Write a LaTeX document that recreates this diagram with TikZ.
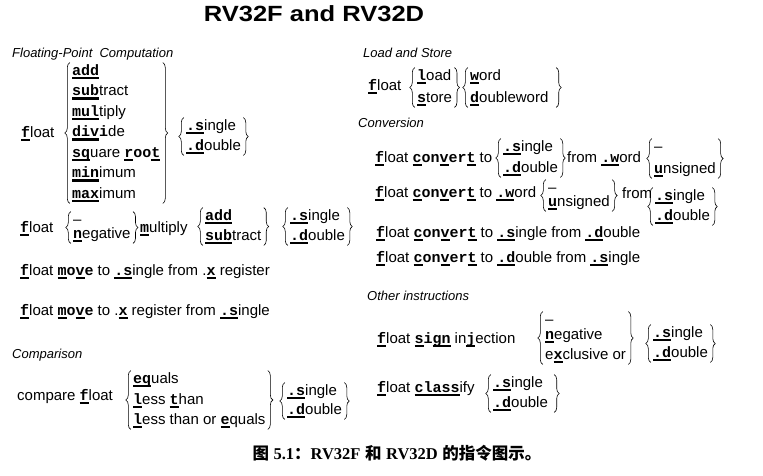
\documentclass[tikz,border=0pt]{standalone}
\usepackage{fontspec}
\usepackage{graphicx}
\setmainfont{Liberation Sans}
\setmonofont{Liberation Mono}
\newfontfamily\cjk{Noto Sans CJK SC}
\newfontfamily\capserif{Liberation Serif}
\usetikzlibrary{fit, decorations.pathreplacing}

% bold mono letters, with and without the thick bar under them
\newcommand{\ulm}[1]{\setbox0\hbox{\ttfamily\bfseries #1}\rlap{\rule[-4.2pt]{\wd0}{2.7pt}}\box0\relax}
\newcommand{\mo}[1]{{\ttfamily\bfseries #1}}

\begin{document}
\begin{tikzpicture}[x=1pt, y=-1pt]
        % Styles for lines of text, headings and the braces round a group
        \tikzstyle{txt} = [inner sep=0pt, anchor=base west, text height=11pt, text depth=4pt,
                           font=\fontsize{15}{20}\selectfont]
        \tikzstyle{head} = [inner sep=0pt, anchor=base west, font=\fontsize{13}{15}\selectfont\itshape]
        \tikzstyle{grp} = [inner xsep=2pt, inner ysep=1pt]
        \tikzstyle{brc} = [decorate, decoration={brace, amplitude=5pt}, line width=0.6pt]

        \useasboundingbox (0,0) rectangle (763,475);

        \node (title) at (314,21) [anchor=base, inner sep=0pt, font=\fontsize{22}{22}\selectfont\bfseries]
              {\scalebox{1.16}[1]{RV32F and RV32D}};

        % Floating-Point Computation
        \node (hcomp) at (12,57) [head] {Floating-Point\ \ Computation};
        \node (fpf) at (21,137) [txt] {\ulm{f}loat};
        \node (fpadd) at (72,75) [txt] {\ulm{add}};
        \node (fpsub) at (72,95.5) [txt] {\ulm{sub}tract};
        \node (fpmul) at (72,116) [txt] {\ulm{mul}tiply};
        \node (fpdiv) at (72,136.5) [txt] {\ulm{div}\mo{i}de};
        \node (fpsqrt) at (72,157) [txt] {\ulm{sq}uare \ulm{r}\mo{oo}\ulm{t}};
        \node (fpmin) at (72,177.5) [txt] {\ulm{min}imum};
        \node (fpmax) at (72,198) [txt] {\ulm{max}imum};
        \node (fpops) [grp, fit=(fpadd)(fpsub)(fpmul)(fpdiv)(fpsqrt)(fpmin)(fpmax)] {};
        \node (fps) at (186,130) [txt] {\ulm{.s}ingle};
        \node (fpd) at (186,150) [txt] {\ulm{.d}ouble};
        \node (fpprec) [grp, fit=(fps)(fpd)] {};

        \node (ngf) at (20,232) [txt] {\ulm{f}loat};
        \node (ngnone) at (73,224) [txt] {--};
        \node (ngneg) at (73,238) [txt] {\ulm{n}egative};
        \node (ngsign) [grp, fit=(ngnone)(ngneg)] {};
        \node (ngmul) at (140,232) [txt] {\ulm{m}ultiply};
        \node (ngadd) at (205,220) [txt] {\ulm{add}};
        \node (ngsub) at (205,240) [txt] {\ulm{sub}tract};
        \node (ngops) [grp, fit=(ngadd)(ngsub)] {};
        \node (ngs) at (290,220) [txt] {\ulm{.s}ingle};
        \node (ngd) at (290,240) [txt] {\ulm{.d}ouble};
        \node (ngprec) [grp, fit=(ngs)(ngd)] {};

        \node (mvsx) at (20,275) [txt] {\ulm{f}loat \ulm{m}\mo{o}\ulm{v}\mo{e} to \ulm{.s}ingle from .\ulm{x} register};
        \node (mvxs) at (20,315) [txt] {\ulm{f}loat \ulm{m}\mo{o}\ulm{v}\mo{e} to .\ulm{x} register from \ulm{.s}ingle};

        % Comparison
        \node (hcmp) at (12,358) [head] {Comparison};
        \node (cmpf) at (17,400) [txt] {compare \ulm{f}loat};
        \node (cmpeq) at (133,383) [txt] {\ulm{eq}uals};
        \node (cmplt) at (133,404) [txt] {\ulm{l}ess \ulm{t}han};
        \node (cmple) at (133,424) [txt] {\ulm{l}ess than or \ulm{e}quals};
        \node (cmpops) [grp, fit=(cmpeq)(cmplt)(cmple)] {};
        \node (cmps) at (287,395) [txt] {\ulm{.s}ingle};
        \node (cmpd) at (287,414) [txt] {\ulm{.d}ouble};
        \node (cmpprec) [grp, fit=(cmps)(cmpd)] {};

        % Load and Store
        \node (hls) at (363,57) [head] {Load and Store};
        \node (lsf) at (368,90) [txt] {\ulm{f}loat};
        \node (lsl) at (417,80) [txt] {\ulm{l}oad};
        \node (lss) at (417,102) [txt] {\ulm{s}tore};
        \node (lsops) [grp, fit=(lsl)(lss)] {};
        \node (lsw) at (470,80) [txt] {\ulm{w}ord};
        \node (lsdw) at (470,102) [txt] {\ulm{d}oubleword};
        \coordinate (lsedge) at (554,102);
        \node (lssize) [grp, fit=(lsw)(lsdw)(lsedge)] {};

        % Conversion
        \node (hcv) at (358,127) [head] {Conversion};
        \node (cvfw) at (375,162) [txt] {\ulm{f}loat \ulm{c}\mo{on}\ulm{v}\mo{er}\ulm{t} to};
        \node (cvfws) at (503,151) [txt] {\ulm{.s}ingle};
        \node (cvfwd) at (503,172) [txt] {\ulm{.d}ouble};
        \node (cvfwprec) [grp, fit=(cvfws)(cvfwd)] {};
        \node (cvfwfrom) at (567,162) [txt] {from \ulm{.w}ord};
        \node (cvfwnone) at (654,151) [txt] {--};
        \node (cvfwu) at (654,173) [txt] {\ulm{u}nsigned};
        \node (cvfwsign) [grp, fit=(cvfwnone)(cvfwu)] {};

        \node (cvwf) at (375,197) [txt] {\ulm{f}loat \ulm{c}\mo{on}\ulm{v}\mo{er}\ulm{t} to \ulm{.w}ord};
        \node (cvwfnone) at (548,192) [txt] {--};
        \node (cvwfu) at (548,206) [txt] {\ulm{u}nsigned};
        \node (cvwfsign) [grp, fit=(cvwfnone)(cvwfu)] {};
        \node (cvwffrom) at (622,198) [txt] {from};
        \node (cvwfs) at (655,200) [txt] {\ulm{.s}ingle};
        \node (cvwfd) at (655,220) [txt] {\ulm{.d}ouble};
        \node (cvwfprec) [grp, fit=(cvwfs)(cvwfd)] {};

        \node (cvsd) at (376,237) [txt] {\ulm{f}loat \ulm{c}\mo{on}\ulm{v}\mo{er}\ulm{t} to \ulm{.s}ingle from \ulm{.d}ouble};
        \node (cvds) at (376,262) [txt] {\ulm{f}loat \ulm{c}\mo{on}\ulm{v}\mo{er}\ulm{t} to \ulm{.d}ouble from \ulm{.s}ingle};

        % Other instructions
        \node (hoth) at (367,300) [head] {Other instructions};
        \node (sgnj) at (377,343) [txt] {\ulm{f}loat \ulm{s}\mo{i}\ulm{gn} in\ulm{j}ection};
        \node (sgnnone) at (545,324) [txt] {--};
        \node (sgnn) at (545,339) [txt] {\ulm{n}egative};
        \node (sgnx) at (545,359) [txt] {e\ulm{x}clusive or};
        \node (sgnops) [grp, fit=(sgnnone)(sgnn)(sgnx)] {};
        \node (sgns) at (653,337) [txt] {\ulm{.s}ingle};
        \node (sgnd) at (653,357) [txt] {\ulm{.d}ouble};
        \node (sgnprec) [grp, fit=(sgns)(sgnd)] {};

        \node (cls) at (377,392) [txt] {\ulm{f}loat \ulm{class}ify};
        \node (clss) at (493,387) [txt] {\ulm{.s}ingle};
        \node (clsd) at (493,407) [txt] {\ulm{.d}ouble};
        \coordinate (clsedge) at (552,407);
        \node (clsprec) [grp, fit=(clss)(clsd)(clsedge)] {};

        \node (caption) at (397,459) [anchor=base, inner sep=0pt, font=\fontsize{16.5}{16.5}\selectfont\bfseries]
              {{\cjk 图} {\capserif 5.1}{\cjk ：}{\capserif RV32F} {\cjk 和} {\capserif RV32D} {\cjk 的指令图示。}};

        % Braces
        \draw [brc] (fpops.south west) -- (fpops.north west);
        \draw [brc] (fpops.north east) -- (fpops.south east);
        \draw [brc] (fpprec.south west) -- (fpprec.north west);
        \draw [brc] (fpprec.north east) -- (fpprec.south east);
        \draw [brc] (ngsign.south west) -- (ngsign.north west);
        \draw [brc] (ngsign.north east) -- (ngsign.south east);
        \draw [brc] (ngops.south west) -- (ngops.north west);
        \draw [brc] (ngops.north east) -- (ngops.south east);
        \draw [brc] (ngprec.south west) -- (ngprec.north west);
        \draw [brc] (ngprec.north east) -- (ngprec.south east);
        \draw [brc] (cmpops.south west) -- (cmpops.north west);
        \draw [brc] (cmpops.north east) -- (cmpops.south east);
        \draw [brc] (cmpprec.south west) -- (cmpprec.north west);
        \draw [brc] (cmpprec.north east) -- (cmpprec.south east);
        \draw [brc] (lsops.south west) -- (lsops.north west);
        \draw [brc] (lsops.north east) -- (lsops.south east);
        \draw [brc] (lssize.south west) -- (lssize.north west);
        \draw [brc] (lssize.north east) -- (lssize.south east);
        \draw [brc] (cvfwprec.south west) -- (cvfwprec.north west);
        \draw [brc] (cvfwprec.north east) -- (cvfwprec.south east);
        \draw [brc] (cvfwsign.south west) -- (cvfwsign.north west);
        \draw [brc] (cvfwsign.north east) -- (cvfwsign.south east);
        \draw [brc] (cvwfsign.south west) -- (cvwfsign.north west);
        \draw [brc] (cvwfsign.north east) -- (cvwfsign.south east);
        \draw [brc] (cvwfprec.south west) -- (cvwfprec.north west);
        \draw [brc] (cvwfprec.north east) -- (cvwfprec.south east);
        \draw [brc] (sgnops.south west) -- (sgnops.north west);
        \draw [brc] (sgnops.north east) -- (sgnops.south east);
        \draw [brc] (sgnprec.south west) -- (sgnprec.north west);
        \draw [brc] (sgnprec.north east) -- (sgnprec.south east);
        \draw [brc] (clsprec.south west) -- (clsprec.north west);
        \draw [brc] (clsprec.north east) -- (clsprec.south east);
\end{tikzpicture}
\end{document}
